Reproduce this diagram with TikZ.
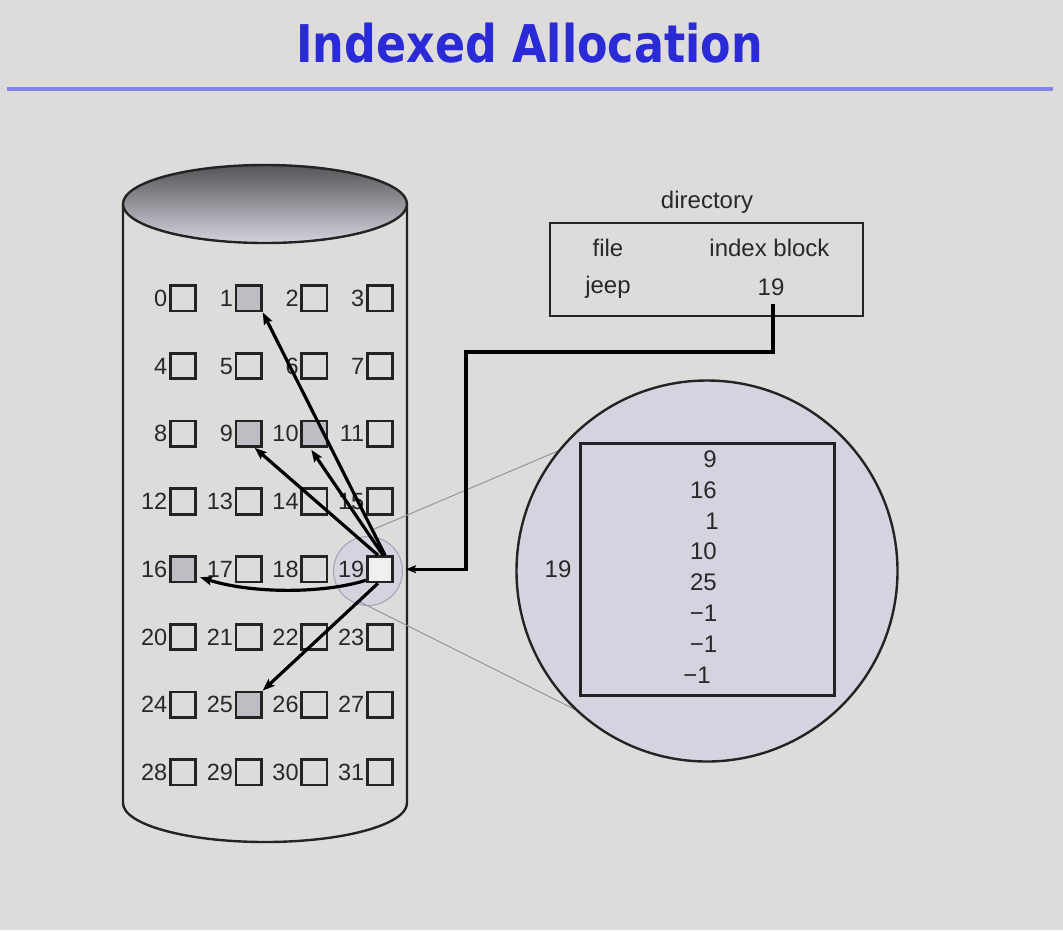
\documentclass[tikz,border=0pt]{standalone}
\usepackage{fontspec}
\setmainfont{Liberation Sans}
\newfontfamily\titlefont{DejaVu Sans}
\usetikzlibrary{arrows.meta}
\definecolor{bg}{RGB}{221,220,219}
\definecolor{titleblue}{RGB}{42,42,214}
\definecolor{rulecol}{RGB}{130,130,232}
\definecolor{ink}{RGB}{35,35,35}
\definecolor{txt}{RGB}{40,40,40}
\definecolor{shadefill}{RGB}{190,189,196}
\definecolor{lensfill}{RGB}{214,211,224}
\definecolor{lensedge}{RGB}{165,160,178}
\definecolor{thingray}{RGB}{150,146,160}
\definecolor{cyldark}{RGB}{85,85,88}
\definecolor{cyllight}{RGB}{214,211,222}
\tikzset{
  cyl/.style={draw=ink, line width=2.4pt},
  blk/.style={draw=ink, line width=2.6pt, minimum size=25.5pt, inner sep=0pt},
  lbl/.style={text=txt, font=\fontsize{23.5}{26}\selectfont, inner sep=0pt},
  txtn/.style={text=txt, font=\fontsize{24}{28}\selectfont, inner sep=0pt},
  arr/.style={draw=black, line width=3.2pt, -{Stealth[length=12pt,width=9pt,inset=2pt]}},
  sh1/.style={fill=shadefill}, sh9/.style={fill=shadefill}, sh10/.style={fill=shadefill},
  sh16/.style={fill=shadefill}, sh25/.style={fill=shadefill}, sh19/.style={fill=white!94!black},
}
\begin{document}
\begin{tikzpicture}[x=1pt,y=-1pt]
\useasboundingbox (0,0) rectangle (1063,930);
\fill[bg] (0,0) rectangle (1063,930);
% title
\node[anchor=base, text=titleblue, inner sep=0pt, font=\titlefont\bfseries\fontsize{52}{60}\selectfont] (title) at (529.5,62) {\scalebox{0.854}[1]{Indexed Allocation}};
\draw[rulecol, line width=4pt] (7,89) -- (1053,89);
% cylinder
\draw[cyl] (123,204) -- (123,803) arc[start angle=180, end angle=360, x radius=142pt, y radius=39pt] -- (407,204);
\draw[cyl, top color=cyldark, bottom color=cyllight] (265,204) ellipse [x radius=142pt, y radius=39pt];
% small lens
\node[circle, draw=lensedge, line width=1pt, fill=lensfill, minimum size=69pt, inner sep=0pt] (sl) at (368,571) {};
% lens connector lines
\coordinate (gu) at (372,530);
\coordinate (gue) at (579,442);
\coordinate (gl) at (360,602);
\coordinate (gle) at (600,722);
\draw[thingray, line width=1pt] (gu) -- (gue);
\draw[thingray, line width=1pt] (gl) -- (gle);
% big lens
\node[circle, draw=ink, line width=2.4pt, fill=lensfill, minimum size=381pt, inner sep=0pt] (lens) at (707,571) {};
\node[draw=ink, line width=2.6pt, minimum width=254pt, minimum height=252pt, inner sep=0pt] (ix) at (707.5,569.5) {};
\node[txtn] (ixl) at (558,569) {19};
\node[txtn, anchor=east] (v1) at (717,459) {9};
\node[txtn, anchor=east] (v2) at (717,490) {16};
\node[txtn, anchor=east] (v3) at (719,521.7) {1};
\node[txtn, anchor=east] (v4) at (717,551.7) {10};
\node[txtn, anchor=east] (v5) at (717,582.3) {25};
\node[txtn, anchor=east] (v6) at (717.5,613.3) {−1};
\node[txtn, anchor=east] (v7) at (717.5,644) {−1};
\node[txtn, anchor=east] (v8) at (711,675) {−1};
% directory
\node[txtn] (dirl) at (707,202) {directory};
\node[draw=ink, line width=2.4pt, minimum width=313pt, minimum height=93pt, inner sep=0pt] (dir) at (706.5,269.5) {};
\node[txtn] (fl) at (608,248) {file};
\node[txtn] (ibl) at (769.5,248) {index block};
\node[txtn] (jp) at (608,287) {jeep};
\node[txtn] (ib) at (771,287) {19};
% grid
\foreach \r in {0,...,7} {
  \foreach \c in {0,...,3} {
    \pgfmathtruncatemacro\n{4*\r+\c}
    \pgfmathsetmacro\xx{183+65.67*\c}
    \pgfmathsetmacro\yy{298.3+67.73*\r}
    \node[blk, sh\n/.try] (b\n) at (\xx,\yy) {};
    \node[lbl, anchor=east] (l\n) at ([xshift=-1.5pt]b\n.west) {\n};
  }
}
% arrows from index block 19
\draw[arr] ([xshift=5pt]b19.north) -- (b1.south east);
\draw[arr] ([xshift=3pt]b19.north) -- ([xshift=-3pt,yshift=-2pt]b10.south);
\draw[arr] ([xshift=-2pt]b19.north) -- ([xshift=6pt]b9.south);
\draw[arr] ([yshift=3pt]b19.south west) .. controls +(-45,14) and +(50,16) .. ([yshift=-8pt,xshift=3pt]b16.east);
\draw[arr] ([xshift=-2pt]b19.south) -- (b25.north east);
% directory pointer
\coordinate (turn) at (466,352);
\draw[arr, -{Stealth[length=10pt,width=8pt,inset=2pt]}] ([xshift=2pt,yshift=-8pt]ib.south) |- (turn) |- ([xshift=12pt]b19.east);
\end{tikzpicture}
\end{document}
